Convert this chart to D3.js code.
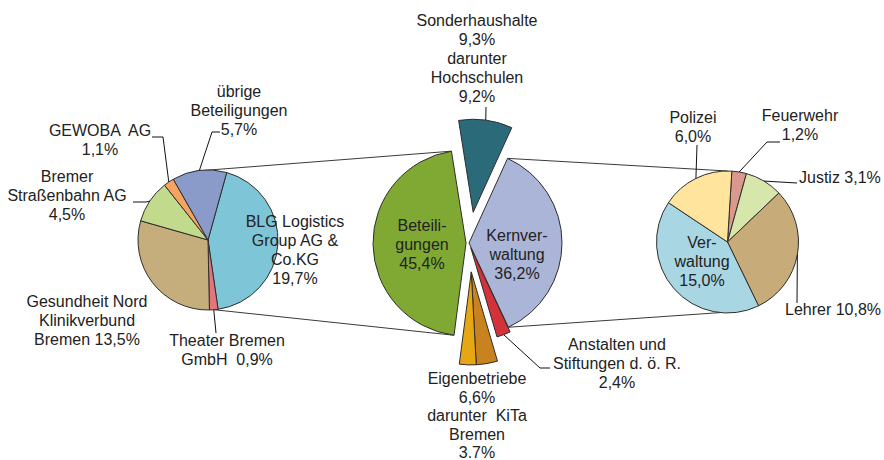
<!DOCTYPE html>
<html>
<head>
<meta charset="utf-8">
<script src="https://cdn.jsdelivr.net/npm/d3@7"></script>
<style>
	body { margin: 0; background: #fff; }
	#chart text { font-family: "Liberation Sans", Arial, sans-serif; font-size: 16px; fill: #222; white-space: pre; }
</style>
</head>
<body>
<svg id="chart" width="884" height="460"></svg>
<script>
// Hauptkreis (Anteile in %)
const CENTER_KEYS = ["Sonderhaushalte", "Kernverwaltung", "Anstalten", "KiTa", "Eigenbetriebe", "Beteiligungen"];
const CENTER_VALUES = [9.3, 36.2, 2.4, 3.7, 2.9, 45.4];
const HOCHSCHULEN = 9.2;

// Beteiligungen
const LEFT_KEYS = ["BLG", "Theater", "Gesundheit", "Strassenbahn", "GEWOBA", "Uebrige"];
const LEFT_VALUES = [19.7, 0.9, 13.5, 4.5, 1.1, 5.7];

// Kernverwaltung
const RIGHT_KEYS = ["Feuerwehr", "Justiz", "Lehrer", "Verwaltung", "Polizei"];
const RIGHT_VALUES = [1.2, 3.1, 10.8, 15.0, 6.0];

const COLORS = {
	Sonderhaushalte: "#2b6b79",
	Kernverwaltung: "#abb5d7",
	Anstalten: "#d3323a",
	KiTa: "#c8821f",
	Eigenbetriebe: "#e6a712",
	Beteiligungen: "#80a934",
	BLG: "#7ec6d7",
	Theater: "#e4757c",
	Gesundheit: "#c6ae7c",
	Strassenbahn: "#c2da8b",
	GEWOBA: "#f6a560",
	Uebrige: "#8b9bc9",
	Feuerwehr: "#da998c",
	Justiz: "#d7e6aa",
	Lehrer: "#c7ac79",
	Verwaltung: "#a9d6e3",
	Polizei: "#fee49c"
};

const PIES = {
	left: { cx: 208, cy: 240, r: 70, start: 15.5 },
	center: { cx: 469, cy: 243, r: 93, start: -9 },
	right: { cx: 727.5, cy: 242, r: 71, start: 3.5 }
};

const EXPLODE = { Sonderhaushalte: 31, Anstalten: 5, KiTa: 29, Eigenbetriebe: 29, Beteiligungen: 3 };
const EXPLODE_GROUP = { KiTa: ["KiTa", "Eigenbetriebe"], Eigenbetriebe: ["KiTa", "Eigenbetriebe"] };

const fmt = d3.formatLocale({ decimal: ",", thousands: ".", grouping: [3], currency: ["", ""] }).format(".1f");
const pct = (v) => fmt(v) + "%";
const val = (keys, values, k) => values[keys.indexOf(k)];

const LABELS = [
	{ key: "Sonderhaushalte", x: 477, y: 26, lines: ["Sonderhaushalte", pct(val(CENTER_KEYS, CENTER_VALUES, "Sonderhaushalte")), "darunter", "Hochschulen", pct(HOCHSCHULEN)], leader: [[486, 107]] },
	{ key: "Eigenbetriebe", x: 477, y: 384, step: 18.5, lines: ["Eigenbetriebe", pct(val(CENTER_KEYS, CENTER_VALUES, "KiTa") + val(CENTER_KEYS, CENTER_VALUES, "Eigenbetriebe")), "darunter  KiTa", "Bremen", "3.7%"] },
	{ key: "Beteiligungen", x: 422, y: 231, lines: ["Beteili-", "gungen", pct(val(CENTER_KEYS, CENTER_VALUES, "Beteiligungen"))] },
	{ key: "Kernverwaltung", x: 517, y: 241, lines: ["Kernver-", "waltung", pct(val(CENTER_KEYS, CENTER_VALUES, "Kernverwaltung"))] },
	{ key: "Anstalten", x: 617, y: 350, lines: ["Anstalten und", "Stiftungen d. ö. R.", pct(val(CENTER_KEYS, CENTER_VALUES, "Anstalten"))], leader: [[540, 368], [550, 368]] },
	{ key: "BLG", x: 295, y: 227, lines: ["BLG Logistics", "Group AG &", "Co.KG", pct(val(LEFT_KEYS, LEFT_VALUES, "BLG"))] },
	{ key: "Theater", x: 227, y: 346, lines: ["Theater Bremen", "GmbH  " + pct(val(LEFT_KEYS, LEFT_VALUES, "Theater"))], leader: [[216, 333]] },
	{ key: "Gesundheit", x: 87, y: 307, lines: ["Gesundheit Nord", "Klinikverbund", "Bremen " + pct(val(LEFT_KEYS, LEFT_VALUES, "Gesundheit"))] },
	{ key: "Strassenbahn", x: 67, y: 182, lines: ["Bremer", "Straßenbahn AG", pct(val(LEFT_KEYS, LEFT_VALUES, "Strassenbahn"))], leader: [[146, 202], [133, 202]] },
	{ key: "GEWOBA", x: 100, y: 136, lines: ["GEWOBA  AG", pct(val(LEFT_KEYS, LEFT_VALUES, "GEWOBA"))], leader: [[163, 137], [152, 137]] },
	{ key: "Uebrige", x: 239, y: 97, lines: ["übrige", "Beteiligungen", pct(val(LEFT_KEYS, LEFT_VALUES, "Uebrige"))], leader: [[212, 132], [220, 132]] },
	{ key: "Polizei", x: 693, y: 123, lines: ["Polizei", pct(val(RIGHT_KEYS, RIGHT_VALUES, "Polizei"))], leader: [[697, 145]] },
	{ key: "Feuerwehr", x: 800, y: 121, lines: ["Feuerwehr", pct(val(RIGHT_KEYS, RIGHT_VALUES, "Feuerwehr"))], leader: [[767, 142], [780, 142]] },
	{ key: "Justiz", x: 799, y: 183, anchor: "start", lines: ["Justiz " + pct(val(RIGHT_KEYS, RIGHT_VALUES, "Justiz"))], leader: [[797, 183]] },
	{ key: "Lehrer", x: 785, y: 315, anchor: "start", lines: ["Lehrer " + pct(val(RIGHT_KEYS, RIGHT_VALUES, "Lehrer"))], leader: [[797, 303]] },
	{ key: "Verwaltung", x: 702, y: 248, lines: ["Ver-", "waltung", pct(val(RIGHT_KEYS, RIGHT_VALUES, "Verwaltung"))] }
];

const toRad = (deg) => deg * Math.PI / 180;

// Punkt auf dem Kreis, Winkel im Uhrzeigersinn ab 12 Uhr
const pointAt = (layout, angle, radius, offset) => [
	layout.cx + offset[0] + radius * Math.sin(angle),
	layout.cy + offset[1] - radius * Math.cos(angle)
];

/**
 * @param {Array} keys
 * @param {Array} values
 * @param {Object} layout
 */
const layoutPie = (keys, values, layout) => {
	let pie = d3.pie()
		.sort(null)
		.value((d) => d.value)
		.startAngle(toRad(layout.start))
		.endAngle(toRad(layout.start) + 2 * Math.PI);

	let arcs = pie(keys.map((k, i) => ({ key: k, value: values[i] })));
	let byKey = {};
	arcs.forEach((a) => { byKey[a.data.key] = a; });

	arcs.forEach((a) => {
		let dist = EXPLODE[a.data.key] || 0;
		let group = EXPLODE_GROUP[a.data.key];
		let mid = (a.startAngle + a.endAngle) / 2;
		if (group) {
			mid = (d3.min(group, (k) => byKey[k].startAngle) + d3.max(group, (k) => byKey[k].endAngle)) / 2;
		}
		a.offset = layout === PIES.center ? [dist * Math.sin(mid), -dist * Math.cos(mid)] : [0, 0];
		a.layout = layout;
	});
	return arcs;
};

/**
 * @param {Object} g
 * @param {Array} arcs
 * @param {Object} layout
 */
const buildPie = (g, arcs, layout) => {
	let arc = d3.arc().innerRadius(0).outerRadius(layout.r);

	g.append("g")
		.attr("transform", "translate(" + layout.cx + "," + layout.cy + ")")
		.selectAll("path")
		.data(arcs)
		.enter().append("path")
		.attr("transform", (d) => "translate(" + d.offset[0] + "," + d.offset[1] + ")")
		.attr("d", arc)
		.attr("fill", (d) => COLORS[d.data.key])
		.attr("stroke", "#2e2e2e")
		.attr("stroke-width", 1)
		.attr("stroke-linejoin", "round");
};

/**
 * @param {Object} g
 * @param {Object} all
 */
const buildConnectors = (g, all) => {
	let bet = all.Beteiligungen;
	let kern = all.Kernverwaltung;
	let lines = [
		[pointAt(PIES.left, toRad(-10), PIES.left.r, [0, 0]), pointAt(PIES.center, bet.endAngle, PIES.center.r, bet.offset)],
		[pointAt(PIES.left, toRad(175), PIES.left.r, [0, 0]), pointAt(PIES.center, bet.startAngle, PIES.center.r, bet.offset)],
		[pointAt(PIES.center, kern.startAngle, PIES.center.r, kern.offset), pointAt(PIES.right, toRad(0), PIES.right.r, [0, 0])],
		[pointAt(PIES.center, kern.endAngle, PIES.center.r, kern.offset), pointAt(PIES.right, toRad(186), PIES.right.r, [0, 0])]
	];

	g.append("g")
		.selectAll("line")
		.data(lines)
		.enter().append("line")
		.attr("x1", (d) => d[0][0])
		.attr("y1", (d) => d[0][1])
		.attr("x2", (d) => d[1][0])
		.attr("y2", (d) => d[1][1])
		.attr("stroke", "#3a3a3a")
		.attr("stroke-width", 1);
};

/**
 * @param {Object} g
 * @param {Object} all
 */
const buildLabels = (g, all) => {
	let line = d3.line();
	let withLeader = LABELS.filter((l) => l.leader);

	g.append("g")
		.selectAll("path")
		.data(withLeader)
		.enter().append("path")
		.attr("d", (l) => {
			let a = all[l.key];
			let start = pointAt(a.layout, (a.startAngle + a.endAngle) / 2, a.layout.r, a.offset);
			return line([start].concat(l.leader));
		})
		.attr("fill", "none")
		.attr("stroke", "#111")
		.attr("stroke-width", 1);

	let text = g.append("g")
		.selectAll("text")
		.data(LABELS)
		.enter().append("text")
		.attr("text-anchor", (l) => l.anchor || "middle");

	text.selectAll("tspan")
		.data((l) => l.lines.map((s, i) => ({ s: s, x: l.x, y: l.y + i * (l.step || 19) })))
		.enter().append("tspan")
		.attr("x", (d) => d.x)
		.attr("y", (d) => d.y)
		.text((d) => d.s);
};

const build = () => {
	let svg = d3.select("#chart");
	let g = svg.append("g");

	let center = layoutPie(CENTER_KEYS, CENTER_VALUES, PIES.center);
	let left = layoutPie(LEFT_KEYS, LEFT_VALUES, PIES.left);
	let right = layoutPie(RIGHT_KEYS, RIGHT_VALUES, PIES.right);

	let all = {};
	center.concat(left, right).forEach((a) => { all[a.data.key] = a; });

	buildConnectors(g, all);
	buildPie(g, left, PIES.left);
	buildPie(g, center, PIES.center);
	buildPie(g, right, PIES.right);
	buildLabels(g, all);
};

build();
</script>
</body>
</html>
